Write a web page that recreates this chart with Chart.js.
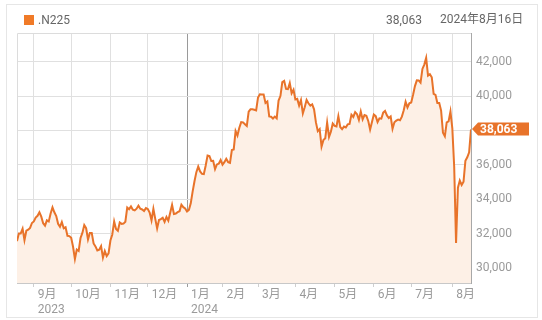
<!DOCTYPE html>
<html>
<head>
<meta charset="utf-8">
<script src="https://cdn.jsdelivr.net/npm/chart.js@4.4.1/dist/chart.umd.min.js"></script>
<style>
  body { margin: 0; background: #fff; font-family: Roboto, "Noto Sans CJK JP", sans-serif; }
  #wrap { position: relative; width: 542px; height: 320px; overflow: hidden; }
  #card { position: absolute; left: 6px; top: 4px; width: 532px; height: 314px; border: 1px solid #e6e6e6; box-sizing: border-box; }
  #chart { position: absolute; left: 0; top: 0; }
  .hdr { position: absolute; font-size: 12px; color: #666; line-height: 14px; }
  #swatch { position: absolute; left: 24px; top: 15px; width: 10px; height: 10px; background: #f07a28; }
</style>
</head>
<body>
<div id="wrap">
  <div id="card"></div>
  <canvas id="chart" width="542" height="320"></canvas>
  <div id="swatch"></div>
  <div class="hdr" id="ric" style="left:38px; top:13px;"></div>
  <div class="hdr" id="last" style="left:386px; top:13px;"></div>
  <div class="hdr" id="asof" style="left:440px; top:12px;"></div>
</div>
<script>
// data - Nikkei 225 daily closes, Aug 2023 - Aug 2024
const seriesName = ".N225";
const asOfDate = "2024年8月16日";
const months = ["2023-08", "2023-09", "2023-10", "2023-11", "2023-12", "2024-01", "2024-02",
  "2024-03", "2024-04", "2024-05", "2024-06", "2024-07", "2024-08"];
const tradingDays = [
  [21, 22, 23, 24, 25, 28, 29, 30, 31],
  [1, 4, 5, 6, 7, 8, 11, 12, 13, 14, 15, 19, 20, 21, 22, 25, 26, 27, 28, 29],
  [2, 3, 4, 5, 6, 10, 11, 12, 13, 16, 17, 18, 19, 20, 23, 24, 25, 26, 27, 30, 31],
  [1, 2, 6, 7, 8, 9, 10, 13, 14, 15, 16, 17, 20, 21, 22, 24, 27, 28, 29, 30],
  [1, 4, 5, 6, 7, 8, 11, 12, 13, 14, 15, 18, 19, 20, 21, 22, 25, 26, 27, 28, 29],
  [4, 5, 9, 10, 11, 12, 15, 16, 17, 18, 19, 22, 23, 24, 25, 26, 29, 30, 31],
  [1, 2, 5, 6, 7, 8, 9, 13, 14, 15, 16, 19, 20, 21, 22, 26, 27, 28, 29],
  [1, 4, 5, 6, 7, 8, 11, 12, 13, 14, 15, 18, 19, 21, 22, 25, 26, 27, 28, 29],
  [1, 2, 3, 4, 5, 8, 9, 10, 11, 12, 15, 16, 17, 18, 19, 22, 23, 24, 25, 26, 30],
  [1, 2, 7, 8, 9, 10, 13, 14, 15, 16, 17, 20, 21, 22, 23, 24, 27, 28, 29, 30, 31],
  [3, 4, 5, 6, 7, 10, 11, 12, 13, 14, 17, 18, 19, 20, 21, 24, 25, 26, 27, 28],
  [1, 2, 3, 4, 5, 8, 9, 10, 11, 12, 16, 17, 18, 19, 22, 23, 24, 25, 26, 29, 30, 31],
  [1, 2, 5, 6, 7, 8, 9, 13, 14, 15, 16]
];
const closes = [
  [31565, 32010, 32010, 32287, 31624, 32170, 32227, 32333, 32619],
  [32711, 32939, 33037, 33241, 32991, 32607, 32468, 32776, 32707, 33168, 33533, 33243, 33024, 32571, 32402, 32679, 32315, 32372, 31873, 31858],
  [31760, 31238, 30527, 31075, 30995, 31747, 32040, 32495, 32316, 31659, 32040, 32042, 31431, 31259, 31019, 31062, 31270, 30602, 30992, 30697, 30859],
  [31602, 31950, 32708, 32272, 32166, 32646, 32568, 32585, 32696, 33520, 33424, 33585, 33388, 33354, 33452, 33626, 33448, 33408, 33321, 33487],
  [33432, 33231, 32776, 33446, 32858, 32308, 32792, 32844, 32926, 32686, 32971, 32759, 33219, 33676, 33140, 33169, 33254, 33306, 33681, 33540, 33464],
  [33288, 33377, 33763, 34442, 35050, 35577, 35902, 35619, 35478, 35466, 35963, 36547, 36518, 36226, 36236, 35751, 36027, 36066, 36287],
  [36011, 36158, 36354, 36161, 36120, 36863, 36897, 37964, 37703, 38158, 38487, 38470, 38364, 38262, 39099, 39234, 39240, 39208, 39166],
  [39911, 40109, 40098, 40091, 39599, 39689, 38820, 38798, 38696, 38807, 38708, 39740, 40004, 40816, 40888, 40414, 40398, 40763, 40168, 40369],
  [39803, 39839, 39452, 39773, 38992, 39347, 39773, 39582, 39443, 39524, 39233, 38471, 37962, 38080, 37068, 37439, 37552, 38460, 37628, 37935, 38406],
  [38274, 38236, 38835, 38202, 38074, 38229, 38179, 38356, 38386, 38920, 38787, 39070, 38947, 38617, 39103, 38646, 38900, 38855, 38557, 38054, 38488],
  [38923, 38837, 38490, 38704, 38684, 39038, 39135, 38877, 38720, 38815, 38102, 38482, 38571, 38633, 38596, 38805, 39173, 39667, 39342, 39583],
  [39631, 40075, 40581, 40914, 40912, 40781, 41580, 41832, 42224, 41191, 41275, 41098, 40126, 40064, 39599, 39594, 39155, 37870, 37667, 38469, 38526, 39102],
  [38126, 35910, 31458, 34675, 35090, 34831, 35025, 36233, 36442, 36727, 38063]
];
const monthLabels = ["9月", "10月", "11月", "12月", "1月", "2月", "3月", "4月", "5月", "6月", "7月", "8月"];
const yearLabels = ["2023", "", "", "", "2024", "", "", "", "", "", "", ""];
const yTicks = [30000, 32000, 34000, 36000, 38000, 40000, 42000];
const yMin = 29130;
const yMax = 43670;

const lineColor = "#e8732a";
const fillColor = "#fdf0e6";
const fontFamily = 'Roboto, "Noto Sans CJK JP", sans-serif';

// flatten to trading-day index
let points = [];
let monthStarts = [];
closes.forEach((list, m) => {
  if (m > 0) monthStarts.push(points.length);
  list.forEach(v => points.push({ x: points.length, y: v }));
});
const lastValue = points[points.length - 1].y;
const yearStart = monthStarts[yearLabels.indexOf("2024")];

document.querySelector("#ric").textContent = seriesName;
document.querySelector("#last").textContent = lastValue.toLocaleString("en-US");
document.querySelector("#asof").textContent = asOfDate;

const framePlugin = {
  id: "frame",
  beforeDatasetsDraw(chart) {
    const { ctx, chartArea: a } = chart;
    ctx.save();
    ctx.strokeStyle = "#dcdcdc";
    ctx.lineWidth = 1;
    ctx.beginPath();
    ctx.moveTo(a.left + 0.5, a.bottom);
    ctx.lineTo(a.left + 0.5, a.top + 0.5);
    ctx.lineTo(a.right, a.top + 0.5);
    ctx.stroke();
    ctx.restore();
  }
};

const tagPlugin = {
  id: "lastTag",
  afterDraw(chart) {
    const { ctx, chartArea: a } = chart;
    const y = Math.round(chart.scales.y.getPixelForValue(lastValue));
    const x = a.right + 1;
    ctx.save();
    ctx.fillStyle = lineColor;
    ctx.beginPath();
    ctx.moveTo(x, y);
    ctx.lineTo(x + 6, y - 6.5);
    ctx.lineTo(x + 57, y - 6.5);
    ctx.lineTo(x + 57, y + 6.5);
    ctx.lineTo(x + 6, y + 6.5);
    ctx.closePath();
    ctx.fill();
    ctx.fillStyle = "#fff";
    ctx.font = "bold 12px " + fontFamily;
    ctx.textBaseline = "middle";
    ctx.fillText(lastValue.toLocaleString("en-US"), x + 8, y + 1);
    ctx.restore();
  }
};

new Chart("chart", {
  type: "line",
  data: {
    datasets: [{
      data: points,
      borderColor: lineColor,
      borderWidth: 2,
      backgroundColor: fillColor,
      fill: "start",
      pointRadius: 0,
      tension: 0
    }]
  },
  options: {
    responsive: false,
    animation: false,
    layout: { padding: { left: 17, top: 33, right: 0, bottom: 0 } },
    plugins: { legend: { display: false }, tooltip: { enabled: false } },
    scales: {
      x: {
        type: "linear",
        min: 0,
        max: points.length - 1,
        afterBuildTicks: scale => { scale.ticks = monthStarts.map(v => ({ value: v })); },
        afterFit: scale => { scale.height = 37; },
        grid: {
          color: c => c.tick && c.tick.value === yearStart ? "#9a9a9a" : "#e0e0e0",
          tickColor: c => c.tick && c.tick.value === yearStart ? "#9a9a9a" : "#cfcfcf",
          tickLength: 4
        },
        border: { color: "#c8c8c8" },
        ticks: {
          align: "start",
          labelOffset: 4,
          padding: 0,
          maxRotation: 0,
          autoSkip: false,
          color: "#9a9a9a",
          font: { family: fontFamily, size: 12, lineHeight: 1.25 },
          callback: (v, i) => yearLabels[i] ? [monthLabels[i], yearLabels[i]] : monthLabels[i]
        }
      },
      y: {
        position: "right",
        min: yMin,
        max: yMax,
        afterBuildTicks: scale => { scale.ticks = yTicks.map(v => ({ value: v })); },
        afterFit: scale => { scale.width = 71; },
        grid: { color: "#e0e0e0", drawTicks: false },
        border: { color: "#a8a8a8" },
        ticks: {
          padding: 5,
          color: "#9a9a9a",
          font: { family: fontFamily, size: 12 },
          callback: v => v.toLocaleString("en-US")
        }
      }
    }
  },
  plugins: [framePlugin, tagPlugin]
});
</script>
</body>
</html>
